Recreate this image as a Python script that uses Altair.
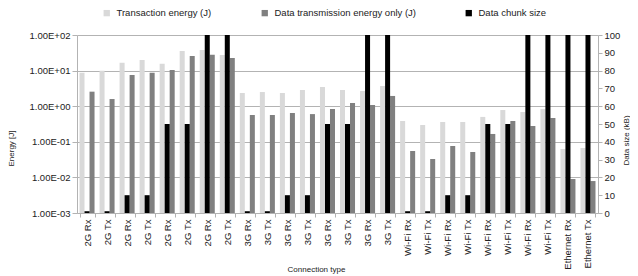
import json
import altair as alt
import pandas as pd

categories = ["2G Rx", "2G Tx", "2G Rx", "2G Tx", "2G Rx", "2G Tx", "2G Rx", "2G Tx",
              "3G Rx", "3G Tx", "3G Rx", "3G Tx", "3G Rx", "3G Tx", "3G Rx", "3G Tx",
              "Wi-Fi Rx", "Wi-Fi Tx", "Wi-Fi Rx", "Wi-Fi Tx", "Wi-Fi Rx", "Wi-Fi Tx", "Wi-Fi Rx", "Wi-Fi Tx",
              "Ethernet Rx", "Ethernet Tx"]
transaction_energy = [8.7, 9.9, 16.7, 19.9, 15.7, 35.5, 37.9, 27.4,
                      2.35, 2.5, 2.35, 2.85, 3.46, 2.85, 2.67, 3.69,
                      0.384, 0.296, 0.36, 0.36, 0.50, 0.78, 0.687, 0.83,
                      0.0628, 0.067]
data_energy = [2.56, 1.59, 7.5, 8.7, 10.4, 25.7, 28.0, 22.6,
               0.566, 0.566, 0.644, 0.60, 0.83, 1.23, 1.08, 1.94,
               0.0552, 0.0329, 0.0762, 0.0517, 0.166, 0.384, 0.278, 0.467,
               0.0090, 0.0079]
chunk_size = [1, 1, 10, 10, 50, 50, 100, 100,
              1, 1, 10, 10, 50, 50, 100, 100,
              1, 1, 10, 10, 50, 50, 100, 100,
              100, 100]
left_ticks = [0.001, 0.01, 0.1, 1, 10, 100]
right_ticks = [0, 10, 20, 30, 40, 50, 60, 70, 80, 90, 100]

S1 = "Transaction energy (J)"
S2 = "Data transmission energy only (J)"
S3 = "Data chunk size"

rows = []
for i in range(len(categories)):
    rows.append({"idx": i, "series": S1, "value": transaction_energy[i]})
    rows.append({"idx": i, "series": S2, "value": data_energy[i]})
energy_df = pd.DataFrame(rows)
size_df = pd.DataFrame({"idx": list(range(len(categories))), "series": S3, "value": chunk_size})

label_expr = json.dumps(categories) + "[datum.value]"
AX = "#b3b3b3"
TXT = "#222222"

x = alt.X("idx:O",
          scale=alt.Scale(paddingInner=0.25, paddingOuter=0.125),
          axis=alt.Axis(labelExpr=label_expr, labelAngle=270, title="Connection type",
                        tickBand="extent", domainColor=AX, tickColor=AX, tickSize=4,
                        labelFontSize=9.5, labelColor=TXT, labelPadding=2,
                        titleFontSize=8, titleFontWeight="normal", titleColor=TXT,
                        titleX=239, titleY=56, titleBaseline="middle"))
xoff = alt.XOffset("series:N", scale=alt.Scale(domain=[S1, S3, S2], paddingInner=0, paddingOuter=0))
color = alt.Color("series:N",
                  scale=alt.Scale(domain=[S1, S2, S3], range=["#d9d9d9", "#808080", "#000000"]),
                  legend=alt.Legend(orient="none", legendX=25, legendY=-27, direction="horizontal",
                                    title=None, columnPadding=48, symbolType="square", symbolSize=40,
                                    symbolStrokeWidth=0, labelFontSize=9.5, labelColor=TXT, labelOffset=5))

energy = alt.Chart(energy_df).mark_bar().encode(
    x=x,
    xOffset=xoff,
    y=alt.Y("value:Q",
            scale=alt.Scale(type="log", domain=[0.001, 100]),
            axis=alt.Axis(values=left_ticks,
                          labelExpr="'1.00E' + (datum.value >= 1 ? '+0' : '-0') + round(abs(log(datum.value)/LN10))",
                          title="Energy [J]", titleX=-66, titleY=113, titleBaseline="middle",
                          titleFontSize=8, titleFontWeight="normal", titleColor=TXT,
                          domainColor=AX, tickColor=AX, tickSize=5, gridColor=AX,
                          labelFontSize=9.5, labelColor=TXT, labelPadding=2)),
    y2=alt.datum(0.001),
    color=color,
)

size = alt.Chart(size_df).mark_bar().encode(
    x=x,
    xOffset=xoff,
    y=alt.Y("value:Q",
            scale=alt.Scale(domain=[0, 100]),
            axis=alt.Axis(orient="right", values=right_ticks, grid=False,
                          title="Data size (kB)", titleAngle=270, titleX=28, titleY=105,
                          titleBaseline="middle",
                          titleFontSize=8, titleFontWeight="normal", titleColor=TXT,
                          domainColor=AX, tickColor=AX, tickSize=4,
                          labelFontSize=9.5, labelColor=TXT, labelPadding=2)),
    color=color,
)

chart = alt.layer(energy, size).resolve_scale(y="independent").properties(
    width=521, height=178,
    autosize=alt.AutoSizeParams(type="none"),
    padding={"left": 69, "top": 27, "right": 32, "bottom": 62},
).configure(font="Liberation Sans").configure_view(stroke=None)

chart.save("out.html", embed_options={"renderer": "svg", "actions": False})
